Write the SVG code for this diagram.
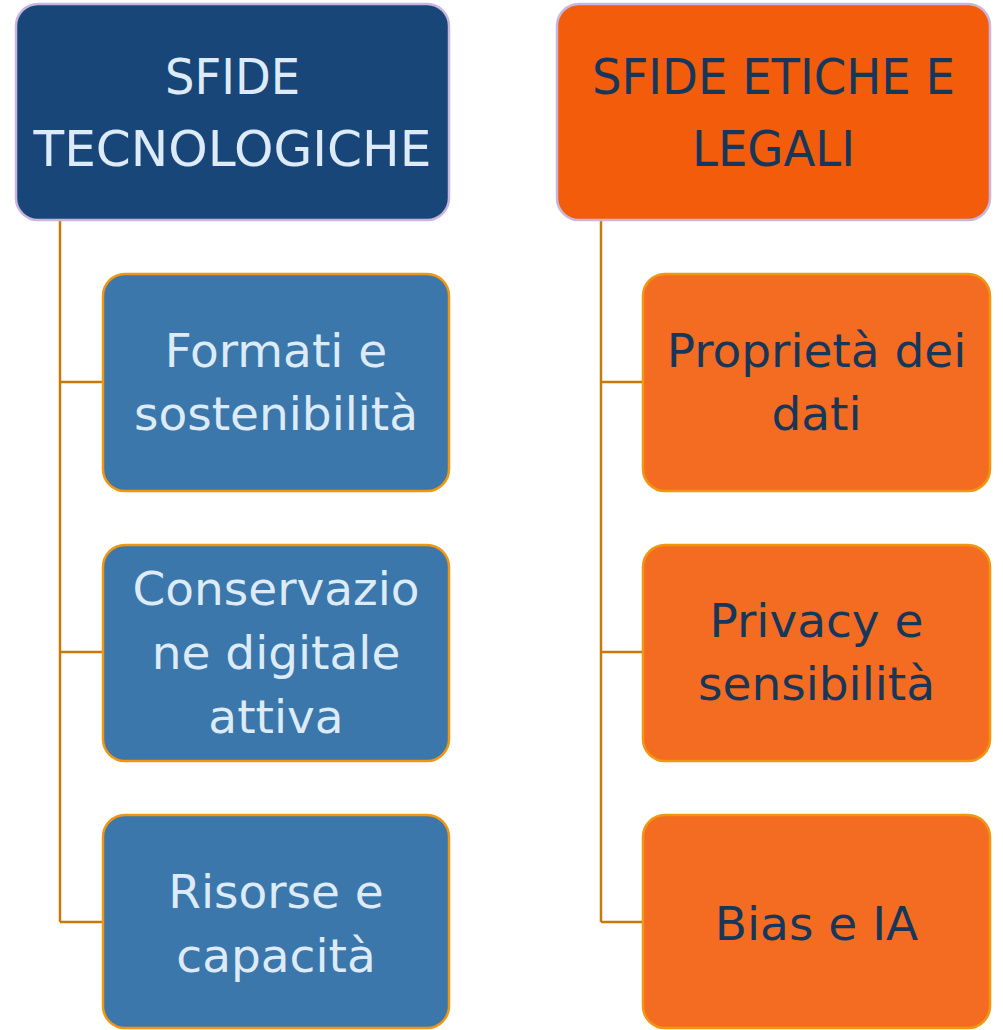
<svg xmlns="http://www.w3.org/2000/svg" width="1003" height="1030" viewBox="0 0 1003 1030">
<style>
.hdr{stroke:#C8B6DC;stroke-width:2.5}
.kid{stroke:#F2950F;stroke-width:2.5}
.t{font-family:"DejaVu Sans",sans-serif;text-anchor:middle}
.th{font-size:49px}
.tk{font-size:47px}
.lt{fill:#DDEBF8}
.dk{fill:#16375A}
.conn{fill:none;stroke:#C87A08;stroke-width:2.5}
</style>
<rect width="1003" height="1030" fill="#FFFFFF"/>
<g id="connectors">
<path class="conn" d="M60 220 V922 M60 382 H102 M60 652 H102 M60 922 H102"/>
<path class="conn" d="M601 220 V922 M601 382 H643 M601 652 H643 M601 922 H643"/>
</g>
<g id="sfide-tecnologiche">
<rect class="hdr" x="16" y="4" width="433" height="216" rx="22" fill="#184679"/>
<text class="t th lt" x="232.5" y="94" textLength="135" lengthAdjust="spacingAndGlyphs">SFIDE</text>
<text class="t th lt" x="232.5" y="166" textLength="398" lengthAdjust="spacingAndGlyphs">TECNOLOGICHE</text>
</g>
<g id="sfide-etiche">
<rect class="hdr" x="557" y="4" width="433" height="216" rx="22" fill="#F25C0A"/>
<text class="t th dk" x="773.5" y="94" textLength="363" lengthAdjust="spacingAndGlyphs">SFIDE ETICHE E</text>
<text class="t th dk" x="773.5" y="166" textLength="163" lengthAdjust="spacingAndGlyphs">LEGALI</text>
</g>
<g id="formati">
<rect class="kid" x="103" y="274" width="346" height="217" rx="22" fill="#3B77AA"/>
<text class="t tk lt" x="276" y="367">Formati e</text>
<text class="t tk lt" x="276" y="430">sostenibilità</text>
</g>
<g id="conservazione">
<rect class="kid" x="103" y="545" width="346" height="216" rx="22" fill="#3B77AA"/>
<text class="t tk lt" x="276" y="605">Conservazio</text>
<text class="t tk lt" x="276" y="669">ne digitale</text>
<text class="t tk lt" x="276" y="733">attiva</text>
</g>
<g id="risorse">
<rect class="kid" x="103" y="815" width="346" height="213" rx="22" fill="#3B77AA"/>
<text class="t tk lt" x="276" y="908">Risorse e</text>
<text class="t tk lt" x="276" y="972">capacità</text>
</g>
<g id="proprieta">
<rect class="kid" x="643" y="274" width="347" height="217" rx="22" fill="#F36C21"/>
<text class="t tk dk" x="816.5" y="367">Proprietà dei</text>
<text class="t tk dk" x="816.5" y="430">dati</text>
</g>
<g id="privacy">
<rect class="kid" x="643" y="545" width="347" height="216" rx="22" fill="#F36C21"/>
<text class="t tk dk" x="816.5" y="637">Privacy e</text>
<text class="t tk dk" x="816.5" y="700">sensibilità</text>
</g>
<g id="bias">
<rect class="kid" x="643" y="815" width="347" height="213" rx="22" fill="#F36C21"/>
<text class="t tk dk" x="816.5" y="940">Bias e IA</text>
</g>
</svg>
